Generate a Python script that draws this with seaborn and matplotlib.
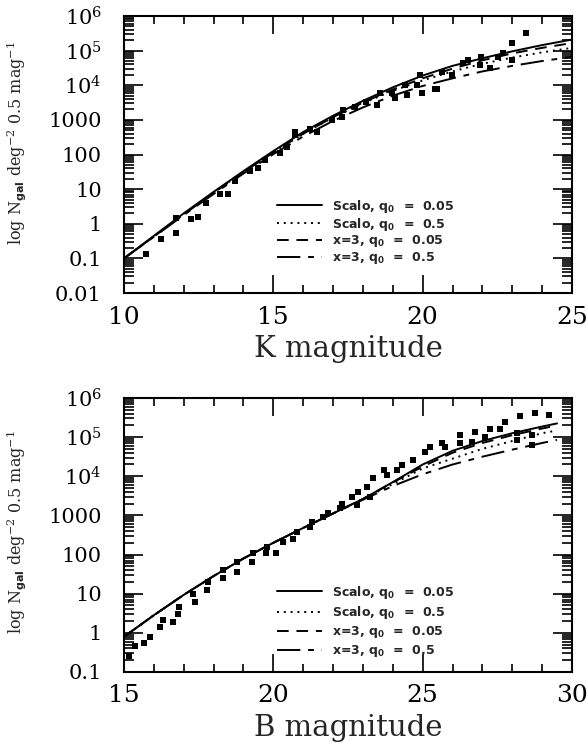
import numpy as np
import seaborn as sns
import matplotlib.pyplot as plt
from matplotlib.ticker import FixedLocator, FixedFormatter, MultipleLocator, LogLocator, NullFormatter

# ---- K band: model curves (log10 N) ----
k_mag = [10, 11, 12, 13, 14, 15, 16, 17, 18, 19, 20, 21, 22, 23, 24, 25]
k_scalo_005 = [-1.0, -0.35, 0.3, 0.92, 1.52, 2.1, 2.65, 3.12, 3.55, 3.94, 4.28, 4.56, 4.78, 4.98, 5.16, 5.32]
k_scalo_05 = [-1.0, -0.36, 0.28, 0.9, 1.5, 2.07, 2.6, 3.07, 3.48, 3.84, 4.14, 4.4, 4.62, 4.8, 4.95, 5.08]
k_x3_005 = [-1.0, -0.37, 0.27, 0.89, 1.49, 2.06, 2.6, 3.08, 3.5, 3.88, 4.2, 4.48, 4.72, 4.92, 5.08, 5.22]
k_x3_05 = [-1.0, -0.38, 0.25, 0.86, 1.45, 2.01, 2.52, 2.97, 3.36, 3.7, 3.98, 4.2, 4.4, 4.56, 4.7, 4.82]

# ---- K band: counts (magnitude, log10 N) ----
k_obs_mag = [10.75, 11.24, 11.73, 11.75, 12.23, 12.49, 12.73, 13.22, 13.49, 13.72, 14.22, 14.49,
             14.72, 15.22, 15.47, 15.72, 15.72, 16.23, 16.45, 16.95, 17.29, 17.34, 17.73, 18.12,
             18.46, 18.57, 18.96, 19.07, 19.41, 19.46, 19.8, 19.9, 19.97, 20.41, 20.47, 20.64,
             20.97, 21.36, 21.52, 21.92, 21.97, 22.25, 22.53, 22.69, 22.98, 22.98, 23.46]
k_obs_log = [-0.87, -0.45, -0.28, 0.16, 0.14, 0.19, 0.59, 0.85, 0.85, 1.23, 1.52, 1.62,
             1.84, 2.03, 2.22, 2.64, 2.56, 2.75, 2.66, 3.0, 3.09, 3.28, 3.38, 3.52,
             3.43, 3.77, 3.77, 3.62, 4.0, 3.72, 4.0, 4.29, 3.77, 3.89, 3.88, 4.39,
             4.29, 4.63, 4.73, 4.58, 4.82, 4.49, 4.82, 4.92, 5.21, 4.73, 5.5]

# ---- B band: model curves (log10 N) ----
b_mag = [15, 16, 17, 18, 19, 20, 21, 22, 23, 24, 25, 26, 27, 28, 29, 29.5]
b_scalo_005 = [-0.1, 0.45, 0.97, 1.45, 1.9, 2.3, 2.68, 3.05, 3.42, 3.85, 4.3, 4.65, 4.9, 5.1, 5.27, 5.35]
b_scalo_05 = [-0.1, 0.45, 0.97, 1.45, 1.9, 2.3, 2.68, 3.05, 3.42, 3.8, 4.2, 4.45, 4.7, 4.9, 5.1, 5.17]
b_x3_005 = [-0.1, 0.45, 0.97, 1.45, 1.9, 2.3, 2.68, 3.05, 3.42, 3.84, 4.25, 4.6, 4.85, 5.05, 5.22, 5.3]
b_x3_05 = [-0.1, 0.45, 0.97, 1.45, 1.9, 2.3, 2.68, 3.05, 3.4, 3.75, 4.05, 4.3, 4.5, 4.68, 4.85, 4.93]

# ---- B band: counts (magnitude, log10 N) ----
b_obs_mag = [15.18, 15.37, 15.67, 15.87, 16.2, 16.32, 16.65, 16.82, 16.85, 17.3, 17.38, 17.79,
             17.82, 18.3, 18.3, 18.77, 18.79, 19.27, 19.32, 19.77, 19.8, 20.09, 20.33, 20.67,
             20.78, 21.22, 21.28, 21.67, 21.83, 22.23, 22.29, 22.62, 22.79, 22.85, 23.13, 23.24,
             23.35, 23.69, 23.8, 24.13, 24.3, 24.69, 25.08, 25.24, 25.64, 25.75, 26.25, 26.25,
             26.64, 26.75, 27.08, 27.25, 27.59, 27.76, 28.15, 28.15, 28.26, 28.65, 28.65, 28.76, 29.24]
b_obs_log = [-0.6, -0.34, -0.27, -0.1, 0.15, 0.32, 0.28, 0.49, 0.66, 1.0, 0.79, 1.09,
             1.3, 1.39, 1.6, 1.56, 1.81, 1.81, 2.03, 2.03, 2.2, 2.03, 2.32, 2.41,
             2.58, 2.71, 2.84, 2.96, 3.05, 3.18, 3.3, 3.48, 3.26, 3.6, 3.73, 3.48,
             3.95, 4.16, 4.03, 4.16, 4.29, 4.41, 4.63, 4.75, 4.84, 4.75, 5.05, 4.84,
             4.88, 5.14, 5.01, 5.22, 5.22, 5.39, 4.93, 5.1, 5.54, 5.05, 4.8, 5.61, 5.57]

legend_labels = [r'Scalo, $\mathbf{q_0}$  =  0.05', r'Scalo, $\mathbf{q_0}$  =  0.5',
                 r'x=3, $\mathbf{q_0}$  =  0.05', r'x=3, $\mathbf{q_0}$  =  0.5']
line_styles = ['-', (0, (1, 2.5)), (0, (6, 4)), (0, (12, 4, 3, 4))]

sns.set_style('ticks')
plt.rcParams['font.family'] = ['DejaVu Serif']
plt.rcParams['mathtext.fontset'] = 'custom'
plt.rcParams['mathtext.rm'] = 'DejaVu Serif'
plt.rcParams['mathtext.it'] = 'DejaVu Serif:italic'
plt.rcParams['mathtext.bf'] = 'DejaVu Sans:bold'

fig = plt.figure(figsize=(5.87, 7.45), dpi=100)
ax_k = fig.add_axes([0.2112, 0.6067, 0.7632, 0.3718])
ax_b = fig.add_axes([0.2112, 0.0980, 0.7632, 0.3678])


def draw_panel(ax, mags, curves, obs_mag, obs_log, xlim, ylim_exp, xlabel,
               leg_anchor, leg_spacing, ylab_y):
    for vals, ls, lab in zip(curves, line_styles, legend_labels):
        sns.lineplot(x=mags, y=10 ** np.array(vals), ax=ax, color='black',
                     linewidth=1.4, linestyle=ls, label=lab)
    sns.scatterplot(x=obs_mag, y=10 ** np.array(obs_log), ax=ax, color='black',
                    marker='s', s=18, linewidth=0, zorder=3)
    ax.set_yscale('log')
    ax.set_xlim(*xlim)
    ax.set_ylim(10.0 ** ylim_exp[0], 10.0 ** ylim_exp[1])

    exps = list(range(ylim_exp[0], ylim_exp[1] + 1))
    labels = []
    for e in exps:
        if e < 0:
            labels.append('0.' + '0' * (-e - 1) + '1')
        elif e <= 3:
            labels.append(str(10 ** e))
        else:
            labels.append(r'$\mathrm{10^{%d}}$' % e)
    ax.yaxis.set_major_locator(FixedLocator([10.0 ** e for e in exps]))
    ax.yaxis.set_major_formatter(FixedFormatter(labels))
    ax.yaxis.set_minor_locator(LogLocator(base=10, subs=np.arange(2, 10), numticks=20))
    ax.yaxis.set_minor_formatter(NullFormatter())
    ax.xaxis.set_major_locator(MultipleLocator(5))
    ax.xaxis.set_minor_locator(MultipleLocator(1))

    ax.tick_params(which='both', direction='in', top=True, right=True, width=1.2, colors='black')
    ax.tick_params(axis='x', which='major', length=13, labelsize=18, pad=9)
    ax.tick_params(axis='x', which='minor', length=6)
    ax.tick_params(axis='y', which='major', length=14, labelsize=15, pad=16)
    ax.tick_params(axis='y', which='minor', length=7.5)
    for sp in ax.spines.values():
        sp.set_linewidth(1.5)
        sp.set_color('black')

    ax.set_xlabel(xlabel, fontsize=21, labelpad=5)
    ax.set_ylabel(r'log N$_{\mathbf{gal}}$ deg$^{-2}$ 0.5 mag$^{-1}$', fontsize=11.5)
    ax.yaxis.set_label_coords(-0.215, ylab_y)

    ax.legend(loc='upper left', bbox_to_anchor=leg_anchor, frameon=False,
              prop={'family': 'DejaVu Sans', 'weight': 'bold', 'size': 9},
              handlelength=3.6, handletextpad=0.8, labelspacing=leg_spacing, borderaxespad=0)


draw_panel(ax_k, k_mag, [k_scalo_005, k_scalo_05, k_x3_005, k_x3_05],
           k_obs_mag, k_obs_log, (10, 25), (-2, 6), 'K magnitude', (0.33, 0.362), 0.07, 0.54)
draw_panel(ax_b, b_mag, [b_scalo_005, b_scalo_05, b_x3_005, b_x3_05],
           b_obs_mag, b_obs_log, (15, 30), (-1, 6), 'B magnitude', (0.33, 0.34), 0.25, 0.51)

fig.savefig('out.png', dpi=100)
